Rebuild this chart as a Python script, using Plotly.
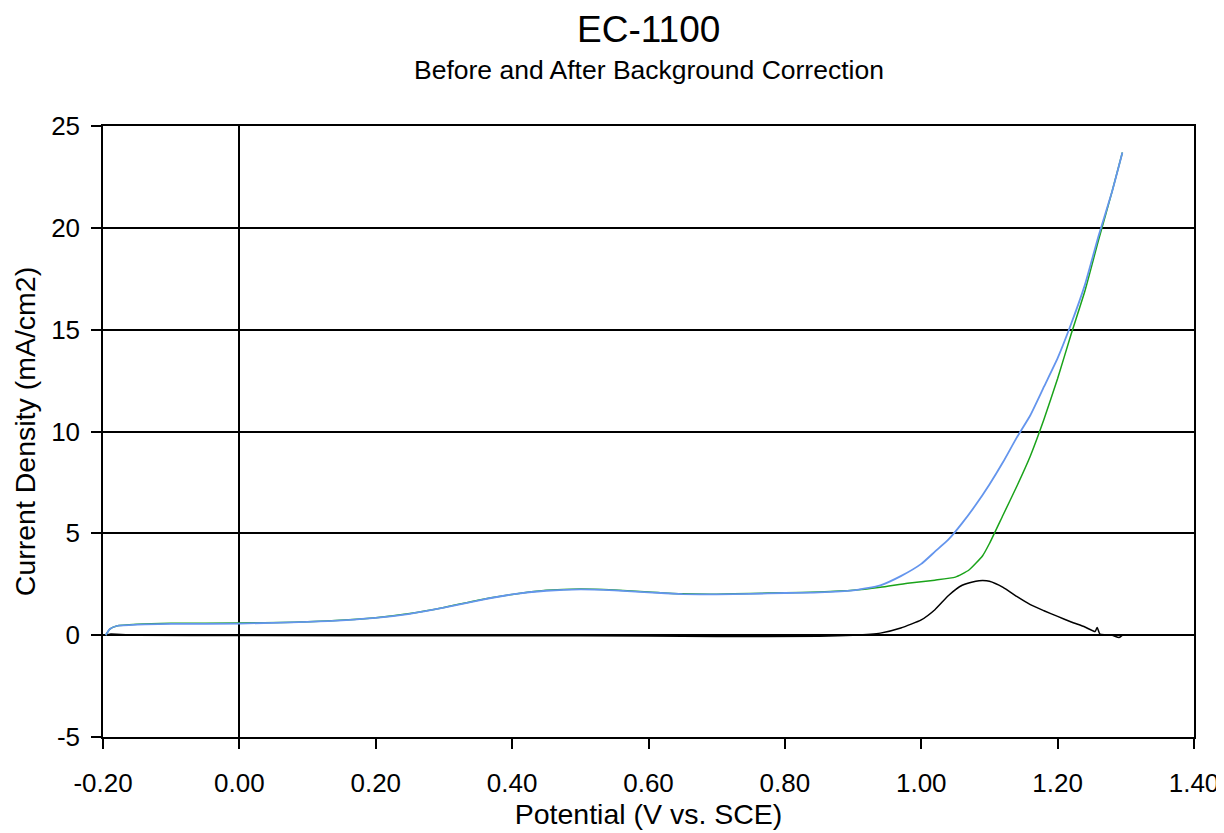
import plotly.graph_objects as go

# Before correction (green)
green_x = [-0.196, -0.19, -0.18, -0.15, -0.10, 0.00, 0.10, 0.20, 0.25, 0.30, 0.35, 0.40, 0.45, 0.50,
           0.55, 0.60, 0.65, 0.70, 0.75, 0.80, 0.85, 0.90, 0.94, 0.98, 1.02, 1.05, 1.07, 1.09, 1.10,
           1.12, 1.14, 1.16, 1.18, 1.20, 1.22, 1.24, 1.26, 1.28, 1.295]
green_y = [0.0, 0.3, 0.45, 0.53, 0.58, 0.6, 0.66, 0.86, 1.06, 1.36, 1.72, 2.0, 2.2, 2.27,
           2.22, 2.12, 2.03, 2.01, 2.05, 2.08, 2.12, 2.2, 2.35, 2.55, 2.7, 2.85, 3.2, 3.9, 4.5,
           5.9, 7.3, 8.8, 10.6, 12.6, 14.8, 16.9, 19.4, 21.8, 23.7]

# Background-corrected (blue)
blue_x = [-0.196, -0.19, -0.18, -0.15, -0.10, 0.00, 0.10, 0.20, 0.25, 0.30, 0.35, 0.40, 0.45, 0.50,
          0.55, 0.60, 0.65, 0.70, 0.75, 0.80, 0.85, 0.90, 0.94, 0.97, 1.00, 1.02, 1.04, 1.06, 1.08,
          1.10, 1.12, 1.14, 1.16, 1.18, 1.20, 1.22, 1.24, 1.26, 1.28, 1.295]
blue_y = [0.0, 0.3, 0.45, 0.52, 0.55, 0.57, 0.65, 0.85, 1.05, 1.35, 1.7, 2.0, 2.18, 2.25,
          2.2, 2.1, 2.02, 2.0, 2.03, 2.07, 2.1, 2.2, 2.45, 2.9, 3.5, 4.1, 4.7, 5.5, 6.4,
          7.4, 8.5, 9.7, 10.8, 12.2, 13.6, 15.3, 17.2, 19.6, 21.8, 23.7]

# Difference (black)
black_x = [-0.195, -0.19, -0.15, 0.00, 0.30, 0.50, 0.70, 0.85, 0.90, 0.94, 0.97, 1.00, 1.02, 1.04,
           1.06, 1.08, 1.09, 1.10, 1.12, 1.14, 1.16, 1.18, 1.20, 1.22, 1.24, 1.255, 1.258, 1.262,
           1.27, 1.28, 1.29, 1.295]
black_y = [0.0, 0.05, 0.0, -0.02, -0.03, -0.03, -0.06, -0.05, 0.0, 0.1, 0.35, 0.75, 1.25, 1.95,
           2.45, 2.65, 2.68, 2.65, 2.35, 1.9, 1.5, 1.2, 0.92, 0.65, 0.4, 0.18, 0.38, 0.05,
           0.02, 0.0, -0.12, 0.0]

x_ticks = [-0.2, 0.0, 0.2, 0.4, 0.6, 0.8, 1.0, 1.2, 1.4]
y_ticks = [-5, 0, 5, 10, 15, 20, 25]
x_ticktext = ["%.2f" % v for v in x_ticks]
y_ticktext = [str(v) for v in y_ticks]

FONT = "Liberation Sans, Arial, Helvetica, sans-serif"

fig = go.Figure()
fig.add_trace(go.Scatter(x=black_x, y=black_y, mode="lines",
                         line=dict(color="black", width=1.5, shape="spline", smoothing=0.5)))
fig.add_trace(go.Scatter(x=green_x, y=green_y, mode="lines",
                         line=dict(color="#1aa31a", width=1.5, shape="spline", smoothing=0.5)))
fig.add_trace(go.Scatter(x=blue_x, y=blue_y, mode="lines",
                         line=dict(color="#6495ED", width=1.8, shape="spline", smoothing=0.5)))

# page has an 8px body margin, so the figure is sized to fit the 1224x833 window
fig.update_layout(
    width=1216, height=825,
    margin=dict(l=95, r=30, t=118, b=96),
    paper_bgcolor="white", plot_bgcolor="white",
    showlegend=False,
    font=dict(family=FONT, color="black"),
    annotations=[
        dict(text="EC-1100", x=0.5, y=1.0, xref="paper", yref="paper", yanchor="middle",
             yshift=97, showarrow=False, font=dict(size=37, family=FONT, color="black")),
        dict(text="Before and After Background Correction", x=0.5, y=1.0, xref="paper", yref="paper",
             yanchor="middle", yshift=56, showarrow=False, font=dict(size=26.5, family=FONT, color="black")),
    ],
)
fig.update_xaxes(
    range=[-0.2, 1.4], tickvals=x_ticks, ticktext=x_ticktext, automargin=False,
    showgrid=False, zeroline=True, zerolinecolor="black", zerolinewidth=1.5,
    showline=True, linecolor="black", linewidth=1.5, mirror=True,
    ticks="outside", ticklen=10, tickwidth=1.5, tickcolor="black",
    tickfont=dict(size=26, family=FONT), ticklabelstandoff=12,
    title=dict(text="Potential (V vs. SCE)", font=dict(size=28.5, family=FONT), standoff=0),
)
fig.update_yaxes(
    range=[-5, 25], tickvals=y_ticks, ticktext=y_ticktext, automargin=False,
    showgrid=True, gridcolor="black", gridwidth=1.5,
    zeroline=True, zerolinecolor="black", zerolinewidth=1.5,
    showline=True, linecolor="black", linewidth=1.5, mirror=True,
    ticks="outside", ticklen=10, tickwidth=1.5, tickcolor="black",
    tickfont=dict(size=26, family=FONT), ticklabelstandoff=6,
    title=dict(text="Current Density (mA/cm2)", font=dict(size=28.5, family=FONT), standoff=7),
)

fig.write_html("out.html")
